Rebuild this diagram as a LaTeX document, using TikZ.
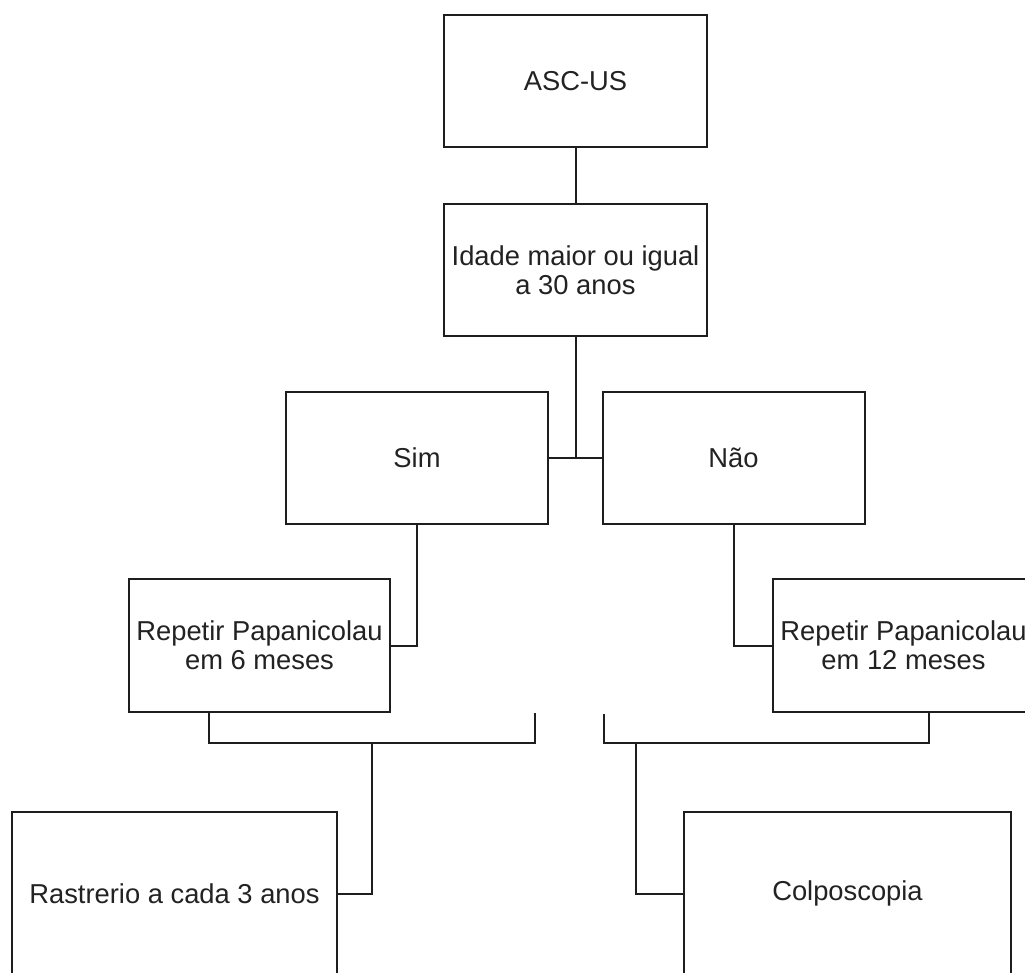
\documentclass[tikz,border=0pt]{standalone}
\usepackage{fontspec}
\setmainfont{Liberation Sans}
\usetikzlibrary{calc}
\definecolor{ink}{HTML}{1E1E1E}
\definecolor{txt}{HTML}{222222}
\tikzset{
  box/.style={draw=ink, line width=1.5pt, fill=white, rectangle, inner sep=0pt,
    align=center, text=txt, font=\fontsize{20.5}{21.75}\selectfont},
  conn/.style={draw=ink, line width=1.5pt}
}
\begin{document}
\begin{tikzpicture}[x=0.75pt, y=-0.75pt]
\useasboundingbox (0,0) rectangle (1025,972);
\fill[white] (0,0) rectangle (1025,972);
\clip (0,0) rectangle (1025,972);
% boxes
\node[box, minimum width=197.25pt, minimum height=99pt] (A) at (575.5,81) {ASC-US};
\node[box, minimum width=197.25pt, minimum height=99pt] (B) at (575.5,270) {Idade maior ou igual\\a 30 anos};
\node[box, minimum width=196.5pt, minimum height=99pt] (Sim) at (417,458) {Sim};
\node[box, minimum width=196.5pt, minimum height=99pt] (Nao) at (733.5,458) {Não};
\node[box, minimum width=195.75pt, minimum height=99.75pt] (R6) at (259.5,645.5) {Repetir Papanicolau\\em 6 meses};
\node[box, minimum width=195.75pt, minimum height=99.75pt] (R12) at (903.5,645.5) {Repetir Papanicolau\\em 12 meses};
\node[box, minimum width=243.75pt, minimum height=122.25pt] (Ras) at (174.5,893.5) {Rastrerio a cada 3 anos};
\node[box, minimum width=245.25pt, minimum height=122.25pt] (Col) at (847.5,893.5) {Colposcopia};
% bracket coordinates
\coordinate (lbl) at (209,712);
\coordinate (lbr) at (535,713);
\coordinate (lmid) at (372,743);
\coordinate (rbl) at (604,714);
\coordinate (rbr) at (929,712);
\coordinate (rmid) at (636,743);
% connectors
\draw[conn] (A.south) -- (B.north);
\draw[conn] (B.south) -- (B.south |- Sim.east);
\draw[conn] (Sim.east) -- (Nao.west);
\draw[conn] (Sim.south) |- (R6.east);
\draw[conn] (Nao.south) |- (R12.west);
\draw[conn] (lbl) |- (lmid) -| (lbr);
\draw[conn] (lmid) |- (Ras.east);
\draw[conn] (rbl) |- (rmid) -| (rbr);
\draw[conn] (rmid) |- (Col.west);
\end{tikzpicture}
\end{document}
